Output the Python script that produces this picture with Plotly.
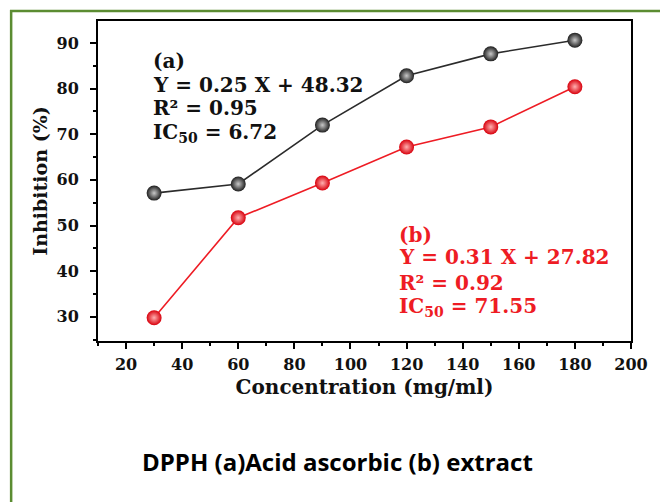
import plotly.graph_objects as go

concentration = [30, 60, 90, 120, 150, 180]
ascorbic_acid = [57.1, 59.1, 72.0, 82.8, 87.6, 90.6]
extract = [29.8, 51.7, 59.3, 67.2, 71.6, 80.4]

x_ticks = [20, 40, 60, 80, 100, 120, 140, 160, 180, 200]
y_ticks = [30, 40, 50, 60, 70, 80, 90]

label_a = ["(a)", "Y = 0.25 X + 48.32", "R² = 0.95", "IC<sub>50</sub> = 6.72"]
label_b = ["(b)", "Y = 0.31 X + 27.82", "R² = 0.92", "IC<sub>50</sub> = 71.55"]
caption = "DPPH (a)Acid ascorbic (b) extract"

SERIF = "DejaVu Serif"
BLACK = "#2b2b2b"
RED = "#ee1c24"
TXT = "#111111"

fig = go.Figure()
fig.add_trace(go.Scatter(
    x=concentration, y=ascorbic_acid, mode="lines+markers",
    line=dict(color=BLACK, width=1.6),
    marker=dict(size=15, color="#1e1e1e", line=dict(width=0),
                gradient=dict(type="radial", color="#c8c8c8")),
    showlegend=False))
fig.add_trace(go.Scatter(
    x=concentration, y=extract, mode="lines+markers",
    line=dict(color=RED, width=1.6),
    marker=dict(size=15, color="#d8000c", line=dict(width=0),
                gradient=dict(type="radial", color="#ffb0b0")),
    showlegend=False))

axis_common = dict(
    showline=True, linecolor="black", linewidth=2, mirror=True,
    ticks="outside", ticklen=6, tickwidth=2, tickcolor="black",
    showgrid=False, zeroline=False,
    tickfont=dict(family=SERIF, size=16, color=TXT, weight="bold"),
)

fig.update_xaxes(
    range=[10, 200], tickvals=x_ticks,
    minor=dict(ticks="outside", ticklen=3, tickwidth=2, dtick=10, tick0=0, tickcolor="black"),
    title=dict(text="<b>Concentration (mg/ml)</b>", font=dict(family=SERIF, size=20, color=TXT), standoff=7),
    ticklabelstandoff=2,
    **axis_common)
fig.update_yaxes(
    range=[24.7, 94.8], tickvals=y_ticks,
    minor=dict(ticks="outside", ticklen=3, tickwidth=2, dtick=5, tick0=0, tickcolor="black"),
    title=dict(text="<b>Inhibition (%)</b>", font=dict(family=SERIF, size=19, color=TXT), standoff=4),
    ticklabelstandoff=8,
    **axis_common)

annotations = []
ya = [0.875, 0.80, 0.728, 0.65]
for txt, yy in zip(label_a, ya):
    annotations.append(dict(xref="paper", yref="paper", x=0.0992, y=yy, xanchor="left", yanchor="middle",
                            text="<b>" + txt + "</b>", showarrow=False,
                            font=dict(family=SERIF, size=20, color=TXT)))
yb = [0.331, 0.2625, 0.181, 0.106]
for txt, yy in zip(label_b, yb):
    annotations.append(dict(xref="paper", yref="paper", x=0.5607, y=yy, xanchor="left", yanchor="middle",
                            text="<b>" + txt + "</b>", showarrow=False,
                            font=dict(family=SERIF, size=20, color=RED)))
annotations.append(dict(xref="paper", yref="paper", x=0.4495, y=-0.378, xanchor="center", yanchor="middle",
                        text="<b>" + caption + "</b>", showarrow=False,
                        font=dict(family="Open Sans", size=24, color="black")))

fig.update_layout(
    width=660, height=502,
    margin=dict(l=98, r=22, t=21, b=161),
    paper_bgcolor="white", plot_bgcolor="white",
    annotations=annotations,
    shapes=[dict(type="rect", xref="paper", yref="paper",
                 x0=(10 - 98) / 540, x1=(680 - 98) / 540,
                 y0=(341 - 520) / 320, y1=(341 - 11) / 320,
                 line=dict(color="#5b8c32", width=2.5), fillcolor="rgba(0,0,0,0)", layer="below")],
)

fig.write_html("out.html", config={"displayModeBar": False},
               post_script="document.body.style.margin='0';document.body.style.overflow='hidden';")
